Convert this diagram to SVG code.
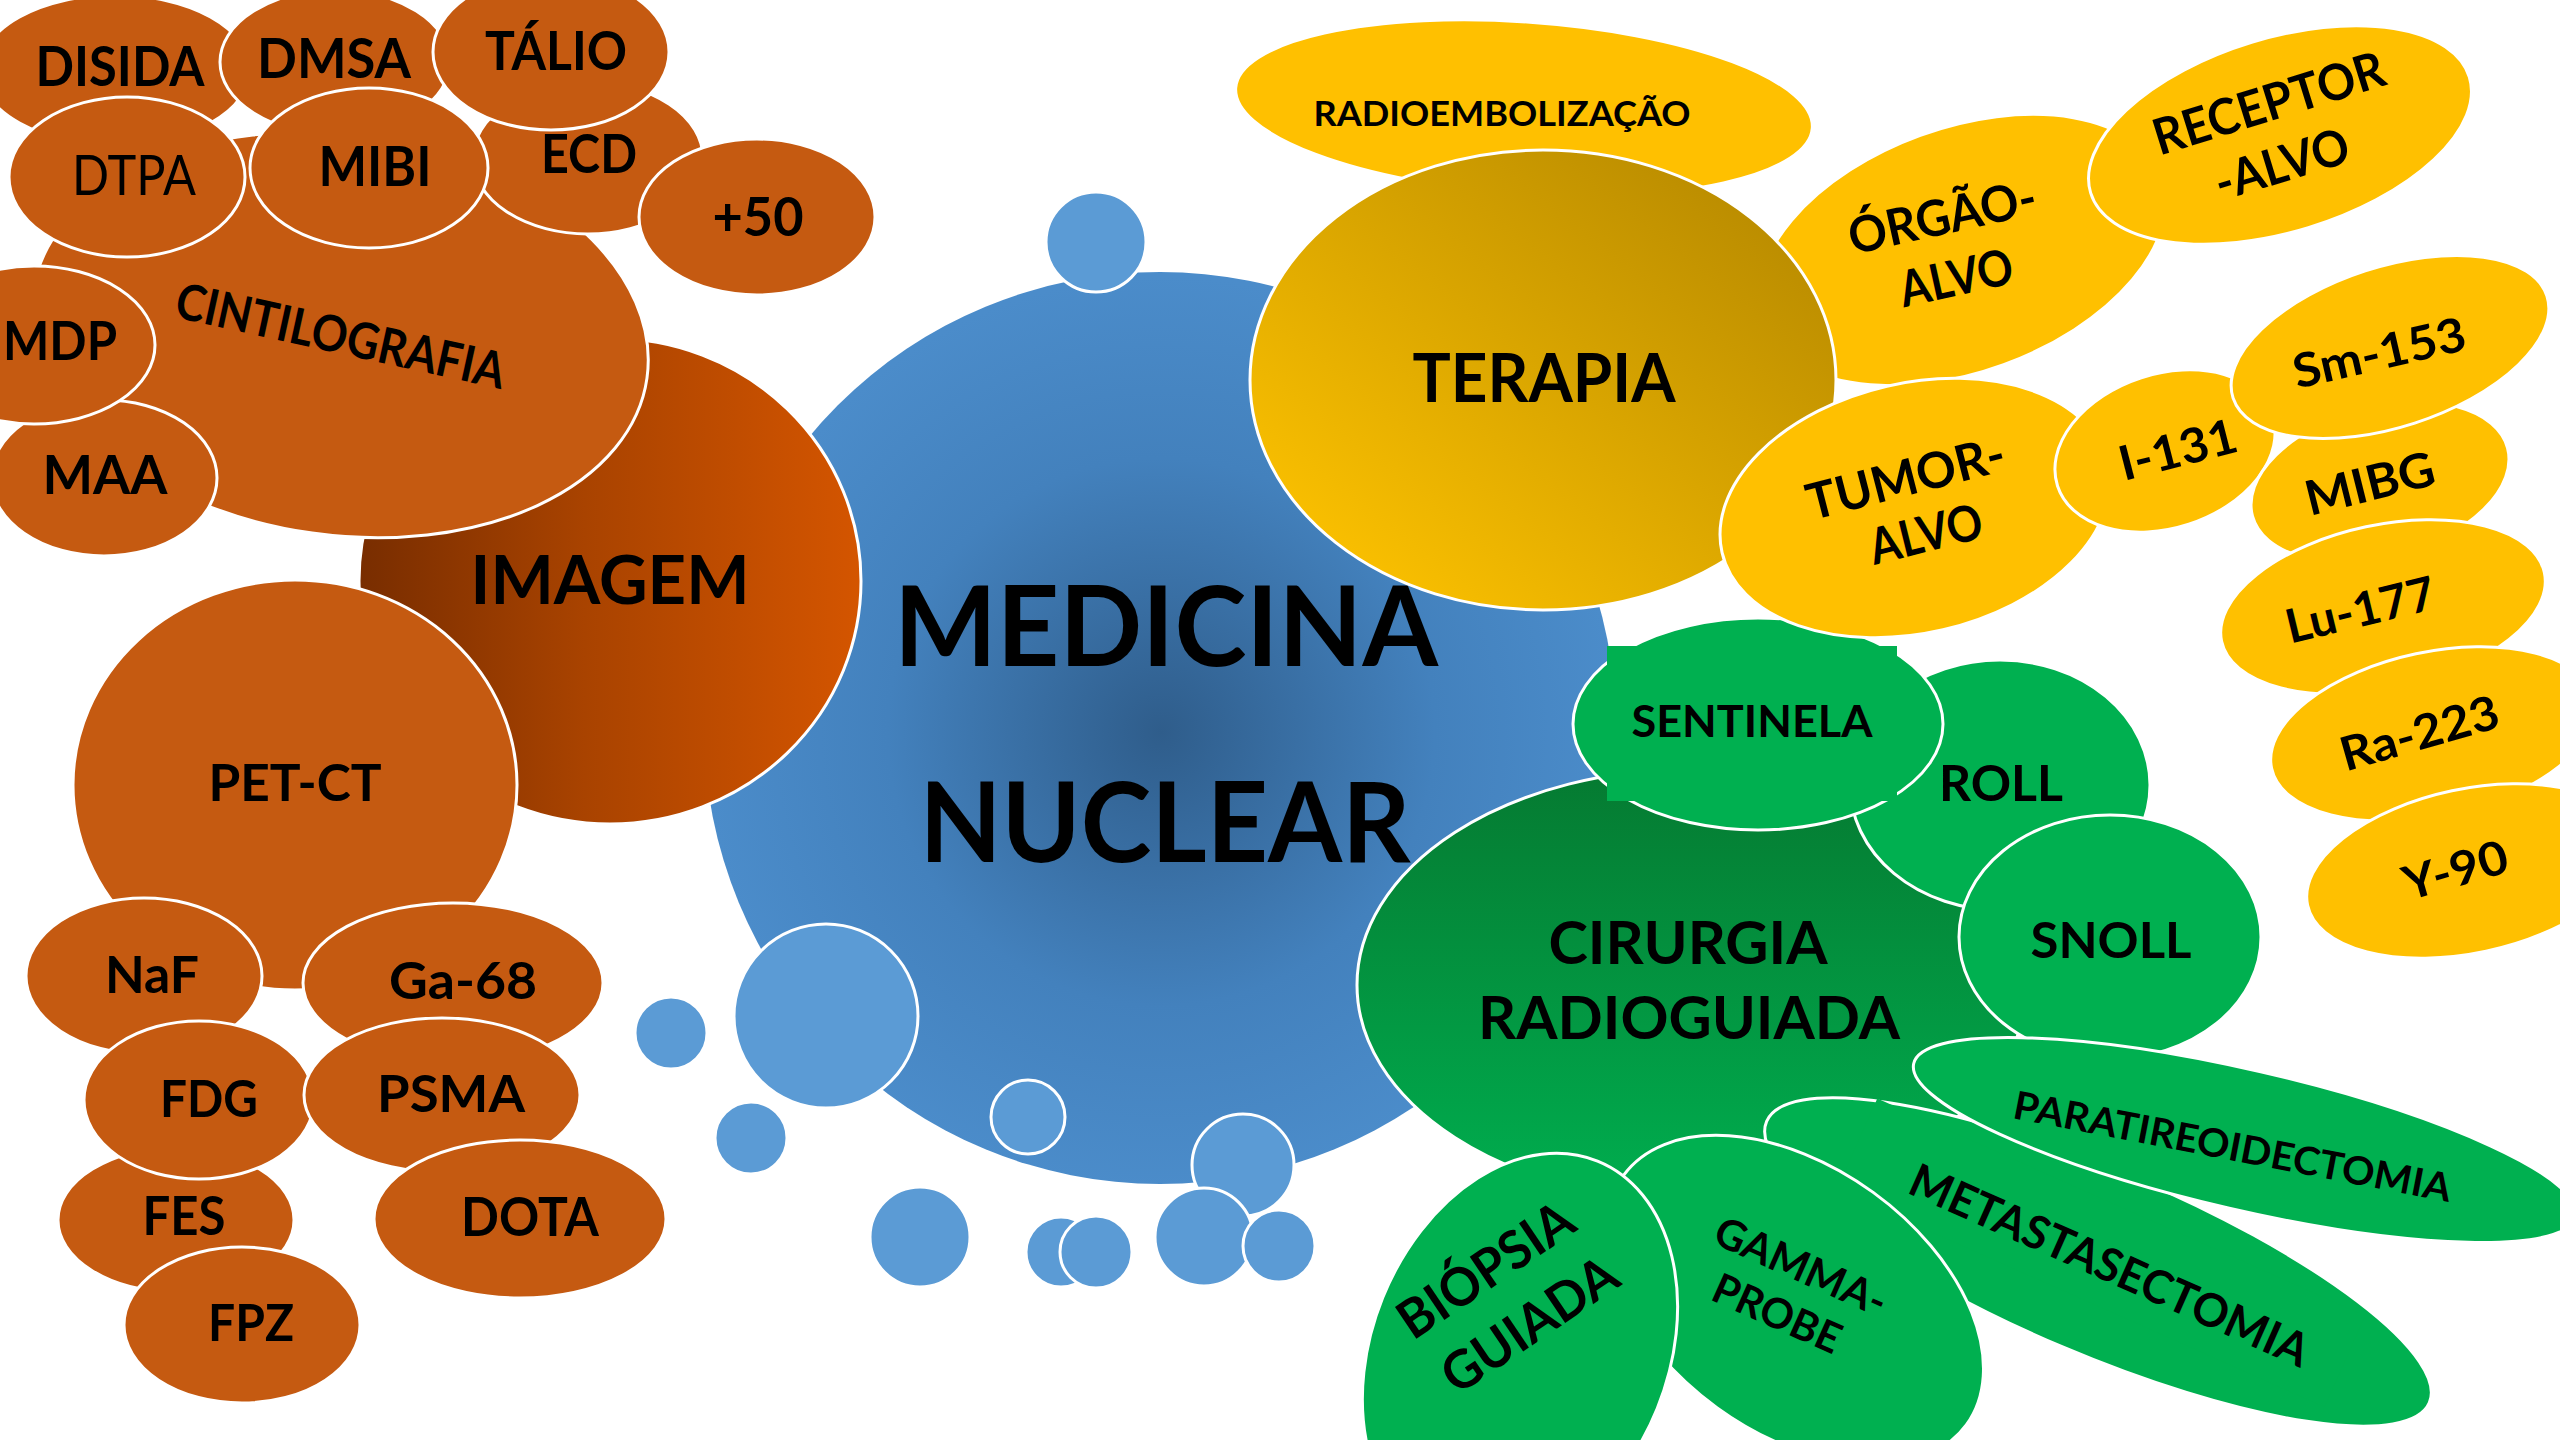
<svg xmlns="http://www.w3.org/2000/svg" width="2560" height="1440" viewBox="0 0 2560 1440">
<defs>
<radialGradient id="gMain" cx="1161" cy="732" r="456" gradientUnits="userSpaceOnUse">
<stop offset="0" stop-color="#2F5D8B"/><stop offset="0.6" stop-color="#4381BD"/><stop offset="1" stop-color="#4B8CCA"/>
</radialGradient>
<linearGradient id="gImg" x1="0" y1="0" x2="1" y2="0">
<stop offset="0" stop-color="#782D00"/><stop offset="0.45" stop-color="#A94300"/><stop offset="1" stop-color="#D45500"/>
</linearGradient>
<linearGradient id="gTer" x1="0" y1="1" x2="1" y2="0">
<stop offset="0.15" stop-color="#F8BE00"/><stop offset="1" stop-color="#B08400"/>
</linearGradient>
<linearGradient id="gCir" x1="0" y1="0" x2="0" y2="1">
<stop offset="0" stop-color="#057A31"/><stop offset="1" stop-color="#00AE4F"/>
</linearGradient>
<style>
.o{fill:#C55A11;stroke:#fff;stroke-width:3}
.y{fill:#FFC000;stroke:#fff;stroke-width:3}
.g{fill:#00B050;stroke:#fff;stroke-width:3}
.b{fill:#5B9BD5;stroke:#fff;stroke-width:3}
.t{font-family:Lato,"Liberation Sans",sans-serif;font-weight:700;text-anchor:middle;fill:#000}
.r{font-weight:400}
</style>
</defs>
<rect width="2560" height="1440" fill="#fff"/>

<g id="medicina-nuclear">
<circle cx="1160" cy="728" r="456" fill="url(#gMain)"/>
<text class="t" x="1166" y="666" font-size="112" textLength="544" lengthAdjust="spacingAndGlyphs">MEDICINA</text>
<text class="t" x="1165" y="862" font-size="112" textLength="491" lengthAdjust="spacingAndGlyphs">NUCLEAR</text>
</g>

<g id="bubbles">
<circle class="b" cx="1096" cy="242" r="50"/>
<circle class="b" cx="826" cy="1016" r="92"/>
<circle class="b" cx="671" cy="1033" r="36"/>
<circle class="b" cx="751" cy="1138" r="36"/>
<circle class="b" cx="1028" cy="1117" r="37"/>
<circle class="b" cx="920" cy="1237" r="50"/>
<circle class="b" cx="1243" cy="1165" r="51"/>
<circle class="b" cx="1204" cy="1237" r="49"/>
<circle class="b" cx="1279" cy="1246" r="36"/>
<circle class="b" cx="1061" cy="1252" r="35"/>
<circle class="b" cx="1096" cy="1252" r="36"/>
</g>

<g id="imagem">
<ellipse cx="610" cy="581" rx="251" ry="243" fill="url(#gImg)" stroke="#fff" stroke-width="3"/>
<text class="t" x="610" y="604" font-size="66" textLength="279" lengthAdjust="spacingAndGlyphs">IMAGEM</text>
</g>
<g id="cintilografia">
<ellipse class="o" cx="340" cy="335" rx="310" ry="200" transform="rotate(8 340 335)"/>
<text class="t" font-size="50" textLength="336" lengthAdjust="spacingAndGlyphs" transform="translate(337 353) rotate(12.4)">CINTILOGRAFIA</text>
</g>
<g id="disida"><ellipse class="o" cx="115" cy="70" rx="135" ry="75"/>
<text class="t" x="120" y="86" font-size="56" textLength="169" lengthAdjust="spacingAndGlyphs">DISIDA</text></g>
<g id="dmsa"><ellipse class="o" cx="335" cy="62" rx="115" ry="72"/>
<text class="t" x="334" y="78" font-size="56" textLength="154" lengthAdjust="spacingAndGlyphs">DMSA</text></g>
<g id="ecd"><ellipse class="o" cx="588" cy="158" rx="115" ry="76"/>
<text class="t" x="589" y="173" font-size="54" textLength="96" lengthAdjust="spacingAndGlyphs">ECD</text></g>
<g id="talio"><ellipse class="o" cx="551" cy="52" rx="118" ry="78"/>
<text class="t" x="556" y="70" font-size="54" textLength="142" lengthAdjust="spacingAndGlyphs">TÁLIO</text></g>
<g id="dtpa"><ellipse class="o" cx="127" cy="177" rx="118" ry="80"/>
<text class="t r" x="134" y="195" font-size="56" textLength="124" lengthAdjust="spacingAndGlyphs">DTPA</text></g>
<g id="mibi"><ellipse class="o" cx="369" cy="168" rx="119" ry="80"/>
<text class="t" x="375" y="186" font-size="56" textLength="113" lengthAdjust="spacingAndGlyphs">MIBI</text></g>
<g id="mais50"><ellipse class="o" cx="757" cy="217" rx="118" ry="78"/>
<text class="t" x="758" y="236" font-size="53" textLength="91" lengthAdjust="spacingAndGlyphs">+50</text></g>
<g id="maa"><ellipse class="o" cx="104" cy="478" rx="113" ry="78"/>
<text class="t" x="105" y="494" font-size="54" textLength="125" lengthAdjust="spacingAndGlyphs">MAA</text></g>
<g id="mdp"><ellipse class="o" cx="34" cy="345" rx="121" ry="79"/>
<text class="t" x="60" y="360" font-size="54" textLength="114" lengthAdjust="spacingAndGlyphs">MDP</text></g>

<g id="pet-ct"><ellipse class="o" cx="295" cy="785" rx="222" ry="205"/>
<text class="t" x="295" y="801" font-size="52" textLength="173" lengthAdjust="spacingAndGlyphs">PET-CT</text></g>
<g id="naf"><ellipse class="o" cx="144" cy="976" rx="118" ry="78"/>
<text class="t" x="152" y="993" font-size="52" textLength="94" lengthAdjust="spacingAndGlyphs">NaF</text></g>
<g id="ga68"><ellipse class="o" cx="453" cy="983" rx="150" ry="80"/>
<text class="t" x="463" y="999" font-size="52" textLength="148" lengthAdjust="spacingAndGlyphs">Ga-68</text></g>
<g id="fes"><ellipse class="o" cx="176" cy="1220" rx="118" ry="72"/>
<text class="t" x="184" y="1235" font-size="53" textLength="83" lengthAdjust="spacingAndGlyphs">FES</text></g>
<g id="fdg"><ellipse class="o" cx="199" cy="1100" rx="115" ry="79"/>
<text class="t" x="209" y="1117" font-size="52" textLength="98" lengthAdjust="spacingAndGlyphs">FDG</text></g>
<g id="psma"><ellipse class="o" cx="442" cy="1095" rx="138" ry="77"/>
<text class="t" x="451" y="1112" font-size="52" textLength="148" lengthAdjust="spacingAndGlyphs">PSMA</text></g>
<g id="fpz"><ellipse class="o" cx="242" cy="1325" rx="118" ry="78"/>
<text class="t" x="251" y="1341" font-size="51" textLength="86" lengthAdjust="spacingAndGlyphs">FPZ</text></g>
<g id="dota"><ellipse class="o" cx="520" cy="1219" rx="146" ry="79"/>
<text class="t" x="530" y="1236" font-size="54" textLength="138" lengthAdjust="spacingAndGlyphs">DOTA</text></g>

<g id="cirurgia">
<ellipse cx="1692" cy="985" rx="335" ry="216" fill="url(#gCir)" stroke="#fff" stroke-width="3"/>
<text class="t" x="1688" y="964" font-size="60" textLength="279" lengthAdjust="spacingAndGlyphs">CIRURGIA</text>
<text class="t" x="1689" y="1039" font-size="60" textLength="422" lengthAdjust="spacingAndGlyphs">RADIOGUIADA</text>
</g>
<g id="roll"><ellipse class="g" cx="2000" cy="785" rx="150" ry="125"/>
<text class="t" x="2001" y="801" font-size="50" textLength="124" lengthAdjust="spacingAndGlyphs">ROLL</text></g>
<g id="sentinela"><ellipse class="g" cx="1758" cy="724" rx="185" ry="106"/>
<rect x="1607" y="646" width="290" height="155" fill="#00B050"/>
<text class="t" x="1752" y="737" font-size="43" textLength="241" lengthAdjust="spacingAndGlyphs">SENTINELA</text></g>
<g id="snoll"><ellipse class="g" cx="2110" cy="937" rx="151" ry="122"/>
<text class="t" x="2111" y="958" font-size="50" textLength="161" lengthAdjust="spacingAndGlyphs">SNOLL</text></g>
<g id="metastasectomia">
<ellipse class="g" cx="2098" cy="1262" rx="360" ry="92" transform="rotate(23 2098 1262)"/>
<g transform="translate(2103 1280) rotate(24)">
<rect x="-280" y="-74" width="534" height="100" fill="#00B050"/>
<text class="t" x="0" y="0" font-size="46" textLength="432" lengthAdjust="spacingAndGlyphs">METASTASECTOMIA</text>
</g>
</g>
<g id="paratireoidectomia">
<ellipse class="g" cx="2245" cy="1140" rx="340" ry="70" transform="rotate(13 2245 1140)"/>
<text class="t" font-size="39" textLength="445" lengthAdjust="spacingAndGlyphs" transform="translate(2230 1160) rotate(10.9)">PARATIREOIDECTOMIA</text>
</g>
<g id="gamma-probe">
<ellipse class="g" cx="1795" cy="1300" rx="212" ry="133" transform="rotate(36 1795 1300)"/>
<text class="t" font-size="42" textLength="184" lengthAdjust="spacingAndGlyphs" transform="translate(1795 1280) rotate(24)">GAMMA-</text>
<text class="t" font-size="42" textLength="136" lengthAdjust="spacingAndGlyphs" transform="translate(1771 1327) rotate(24)">PROBE</text>
</g>
<g id="biopsia-guiada">
<ellipse class="g" cx="1520" cy="1353" rx="148" ry="207" transform="rotate(22 1520 1353)"/>
<text class="t" font-size="53" textLength="200" lengthAdjust="spacingAndGlyphs" transform="translate(1496 1285) rotate(-34)">BIÓPSIA</text>
<text class="t" font-size="53" textLength="200" lengthAdjust="spacingAndGlyphs" transform="translate(1540 1340) rotate(-34)">GUIADA</text>
</g>

<g id="radioembolizacao"><ellipse class="y" cx="1524" cy="108" rx="289" ry="86" transform="rotate(4 1524 108)"/>
<text class="t" x="1502" y="126" font-size="34" textLength="377" lengthAdjust="spacingAndGlyphs">RADIOEMBOLIZAÇÃO</text></g>
<g id="orgao-alvo"><ellipse class="y" cx="1962" cy="250" rx="212" ry="122" transform="rotate(-20 1962 250)"/>
<text class="t" font-size="50" textLength="191" lengthAdjust="spacingAndGlyphs" transform="translate(1946 234) rotate(-12.5)">ÓRGÃO-</text>
<text class="t" font-size="50" textLength="115" lengthAdjust="spacingAndGlyphs" transform="translate(1960 295) rotate(-12.5)">ALVO</text></g>
<g id="terapia"><ellipse cx="1543" cy="380" rx="293" ry="230" fill="url(#gTer)" stroke="#fff" stroke-width="3"/>
<text class="t" x="1544" y="402" font-size="66" textLength="263" lengthAdjust="spacingAndGlyphs">TERAPIA</text></g>
<g id="receptor-alvo"><ellipse class="y" cx="2280" cy="135" rx="198" ry="97" transform="rotate(-17 2280 135)"/>
<text class="t" font-size="50" textLength="240" lengthAdjust="spacingAndGlyphs" transform="translate(2274 120) rotate(-17.3)">RECEPTOR</text>
<text class="t" font-size="50" textLength="138" lengthAdjust="spacingAndGlyphs" transform="translate(2287 181) rotate(-17)">-ALVO</text></g>
<g id="tumor-alvo"><ellipse class="y" cx="1915" cy="508" rx="198" ry="125" transform="rotate(-13 1915 508)"/>
<text class="t" font-size="50" textLength="203" lengthAdjust="spacingAndGlyphs" transform="translate(1910 495) rotate(-14.5)">TUMOR-</text>
<text class="t" font-size="50" textLength="115" lengthAdjust="spacingAndGlyphs" transform="translate(1930 551) rotate(-14)">ALVO</text></g>
<g id="i131"><ellipse class="y" cx="2165" cy="451" rx="113" ry="77" transform="rotate(-18 2165 451)"/>
<text class="t" font-size="48" textLength="120" lengthAdjust="spacingAndGlyphs" transform="translate(2182 466) rotate(-14.4)">I-131</text></g>
<g id="mibg"><ellipse class="y" cx="2380" cy="482" rx="132" ry="75" transform="rotate(-15 2380 482)"/>
<text class="t" font-size="48" textLength="132" lengthAdjust="spacingAndGlyphs" transform="translate(2374 500) rotate(-14)">MIBG</text></g>
<g id="sm153"><ellipse class="y" cx="2390" cy="347" rx="165" ry="80" transform="rotate(-18 2390 347)"/>
<text class="t" font-size="47" textLength="176" lengthAdjust="spacingAndGlyphs" transform="translate(2383 369) rotate(-13)">Sm-153</text></g>
<g id="lu177"><ellipse class="y" cx="2383" cy="607" rx="165" ry="82" transform="rotate(-12 2383 607)"/>
<text class="t" font-size="47" textLength="152" lengthAdjust="spacingAndGlyphs" transform="translate(2364 626) rotate(-13.6)">Lu-177</text></g>
<g id="ra223"><ellipse class="y" cx="2433" cy="734" rx="165" ry="82" transform="rotate(-12 2433 734)"/>
<text class="t" font-size="47" textLength="163" lengthAdjust="spacingAndGlyphs" transform="translate(2424 749) rotate(-16)">Ra-223</text></g>
<g id="y90"><ellipse class="y" cx="2469" cy="871" rx="165" ry="82" transform="rotate(-12 2469 871)"/>
<text class="t" font-size="47" textLength="107" lengthAdjust="spacingAndGlyphs" transform="translate(2460 886) rotate(-16)">Y-90</text></g>

<g id="connectors"></g>
</svg>
